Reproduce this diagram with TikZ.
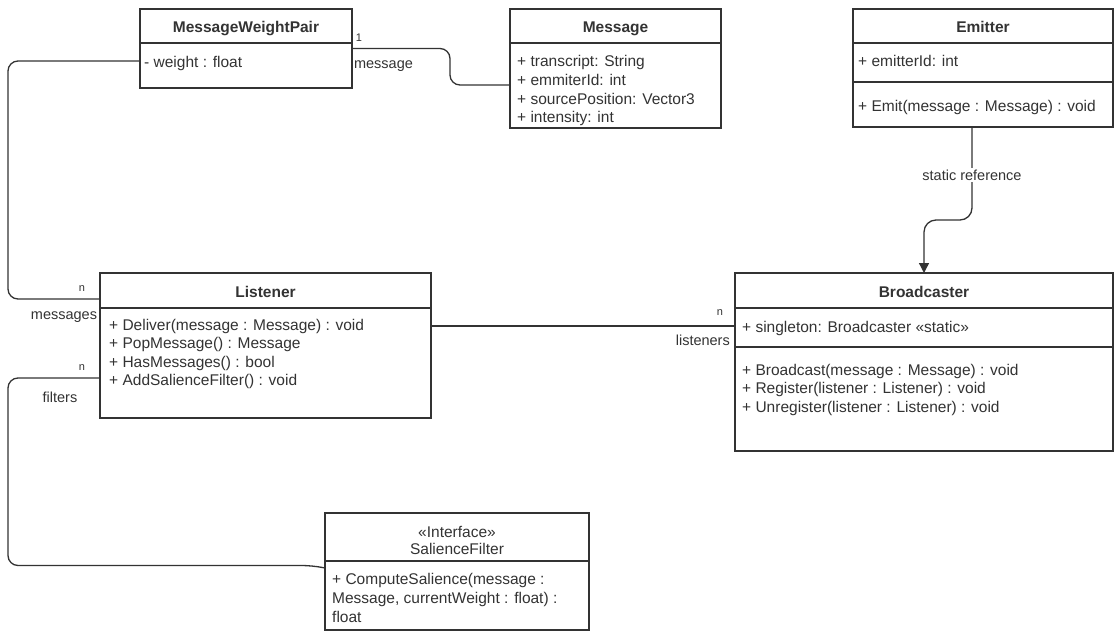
\documentclass[tikz,border=0pt]{standalone}
\usepackage{fontspec}
\setmainfont{Liberation Sans}
\usetikzlibrary{calc,arrows.meta}
\definecolor{ink}{HTML}{333333}
\begin{document}
\begin{tikzpicture}[x=1pt,y=-1pt,
  umlbox/.style={draw=ink, line width=1.3pt, fill=white, anchor=north west, inner sep=0pt, outer sep=0pt},
  sep/.style={draw=ink, line width=1.3pt},
  title/.style={anchor=base, font=\fontsize{15.5}{19}\selectfont\bfseries, text=ink, inner sep=0pt},
  stereo/.style={anchor=base, font=\fontsize{15.5}{19}\selectfont, text=ink, inner sep=0pt},
  member/.style={anchor=base west, font=\fontsize{15.5}{19}\selectfont, text=ink, inner sep=0pt},
  role/.style={font=\fontsize{14.5}{17}\selectfont, text=ink, inner sep=0pt},
  mult/.style={font=\fontsize{11}{13}\selectfont, text=ink, inner sep=0pt},
  conn/.style={draw=ink, line width=1.3pt, rounded corners=10pt},
]
\path[fill=white] (0,0) rectangle (1116,632);
\useasboundingbox (0,0) rectangle (1116,632);

% ---- class boxes ----
\node[umlbox, minimum width=212pt, minimum height=79pt]  (mwp) at (140,9) {};
\node[umlbox, minimum width=211pt, minimum height=119pt] (msg) at (510,9) {};
\node[umlbox, minimum width=260pt, minimum height=118pt] (em)  at (853,9) {};
\node[umlbox, minimum width=331pt, minimum height=145pt] (lis) at (100,273) {};
\node[umlbox, minimum width=378pt, minimum height=178pt] (bc)  at (735,273) {};
\node[umlbox, minimum width=264pt, minimum height=117pt] (sf)  at (325,513) {};

% ---- compartment separators ----
\draw[sep] (140,43) -- (352,43);
\draw[sep] (510,43) -- (721,43);
\draw[sep] (853,43) -- (1113,43);
\draw[sep] (853,82) -- (1113,82);
\draw[sep] (100,308) -- (431,308);
\draw[sep] (735,308) -- (1113,308);
\draw[sep] (735,347) -- (1113,347);
\draw[sep] (325,561) -- (589,561);

% ---- MessageWeightPair ----
\node[title] (mwpT) at (246,32) {MessageWeightPair};
\node[member] (mwpA) at (144,67) {- weight : float};

% ---- Message ----
\node[title] (msgT) at (615.5,32) {Message};
\node[member] (msgA1) at (517,66)  {+ transcript: String};
\node[member] (msgA2) at (517,85)  {+ emmiterId: int};
\node[member] (msgA3) at (517,104) {+ sourcePosition: Vector3};
\node[member] (msgA4) at (517,122) {+ intensity: int};

% ---- Emitter ----
\node[title] (emT) at (983,32) {Emitter};
\node[member] (emA) at (858,66)  {+ emitterId: int};
\node[member] (emM) at (858,111) {+ Emit(message : Message) : void};

% ---- Listener ----
\node[title] (lisT) at (265.5,297) {Listener};
\node[member] (lisM1) at (109,330) {+ Deliver(message : Message) : void};
\node[member] (lisM2) at (109,348) {+ PopMessage() : Message};
\node[member] (lisM3) at (109,367) {+ HasMessages() : bool};
\node[member] (lisM4) at (109,385) {+ AddSalienceFilter() : void};

% ---- Broadcaster ----
\node[title] (bcT) at (924,297) {Broadcaster};
\node[member] (bcA)  at (742,332) {+ singleton: Broadcaster «static»};
\node[member] (bcM1) at (742,375) {+ Broadcast(message : Message) : void};
\node[member] (bcM2) at (742,393) {+ Register(listener : Listener) : void};
\node[member] (bcM3) at (742,412) {+ Unregister(listener : Listener) : void};

% ---- SalienceFilter ----
\node[stereo] (sfS) at (457,537) {«Interface»};
\node[stereo] (sfT) at (457,554) {SalienceFilter};
\node[member] (sfM1) at (332,584) {+ ComputeSalience(message :};
\node[member] (sfM2) at (332,603) {Message, currentWeight : float) :};
\node[member] (sfM3) at (332,622) {float};

% ---- associations ----
\draw[conn] (mwp.east) -- (450,48.5) -- (450,85) -- ($(msg.west)+(0,16.5)$);
\node[mult] (m1) at (359,38) {1};
\node[role] (r1) at (383.5,66) {message};

\draw[conn] ($(mwp.west)+(0,12.5)$) -- (8,61) -- (8,299) -- ($(lis.west)+(0,-46.5)$);
\node[mult] (m2) at (82,289) {n};
\node[role] (r2) at (64,317) {messages};

\draw[conn] ($(lis.west)+(0,32.5)$) -- (8,378) -- (8,565.5) -- (312,565.5)
  [rounded corners=0pt] -- ($(sf.west)+(0,-3.5)$);
\node[mult] (m3) at (82,368) {n};
\node[role] (r3) at (60,397) {filters};

\draw[conn] ($(lis.east)+(0,-19.5)$) -- ($(bc.west)+(0,-36)$);
\node[mult] (m4) at (720,313) {n};
\node[role, anchor=east] (r4) at (730,340) {listeners};

\draw[conn, rounded corners=12pt, -{Triangle[length=10pt,width=10pt]}]
  ($(em.south)+(-11,0)$) -- (972,220) -- (924,220) -- (bc.north);
\node[role, fill=white, inner sep=2pt] (r5) at (972,175) {static reference};
\end{tikzpicture}
\end{document}
